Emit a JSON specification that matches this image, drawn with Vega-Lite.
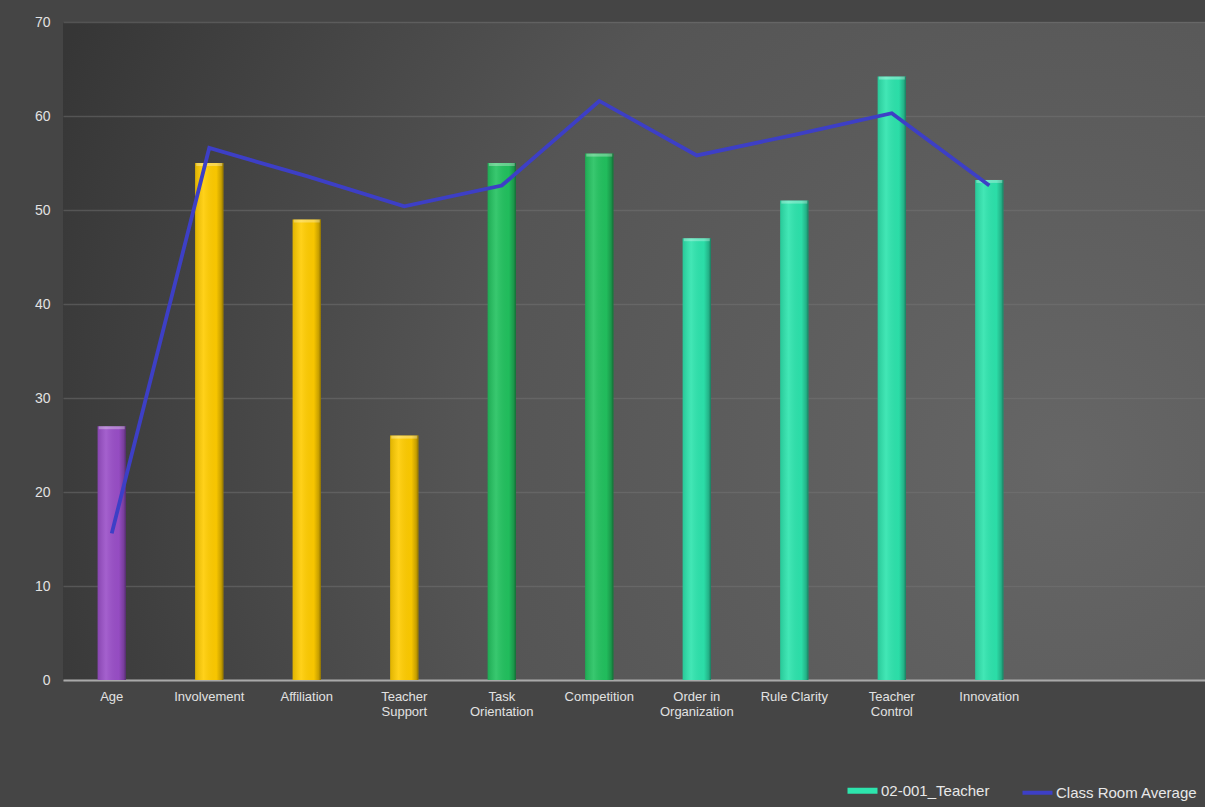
{
  "$schema": "https://vega.github.io/schema/vega-lite/v6.json",
  "autosize": {"type": "none"},
  "width": 1142,
  "height": 658,
  "padding": {"left": 63, "top": 22, "right": 0, "bottom": 127},
  "background": "#454545",
  "config": {
    "view": {
      "stroke": null,
      "fill": {
        "gradient": "radial",
        "x1": 0.88, "y1": 0.6, "r1": 0,
        "x2": 0.88, "y2": 0.6, "r2": 0.95,
        "stops": [
          {"offset": 0, "color": "#666666"},
          {"offset": 0.55, "color": "#555555"},
          {"offset": 1, "color": "#363636"}
        ]
      }
    },
    "font": "Liberation Sans",
    "axis": {"labelFont": "Liberation Sans", "labelColor": "#e2e2e2", "labelFontSize": 13},
    "legend": {"labelFont": "Liberation Sans", "labelColor": "#e8e8e8", "labelFontSize": 15}
  },
  "data": {
    "values": [
      {"category": "Age", "group": "age", "teacher": 27, "average": 15.6},
      {"category": "Involvement", "group": "rel", "teacher": 55, "average": 56.6},
      {"category": "Affiliation", "group": "rel", "teacher": 49, "average": 53.6},
      {"category": "Teacher Support", "group": "rel", "teacher": 26, "average": 50.4},
      {"category": "Task Orientation", "group": "pers", "teacher": 55, "average": 52.6},
      {"category": "Competition", "group": "pers", "teacher": 56, "average": 61.6},
      {"category": "Order in Organization", "group": "sys", "teacher": 47, "average": 55.8},
      {"category": "Rule Clarity", "group": "sys", "teacher": 51, "average": 58.0},
      {"category": "Teacher Control", "group": "sys", "teacher": 64.2, "average": 60.3},
      {"category": "Innovation", "group": "sys", "teacher": 53.2, "average": 52.6}
    ]
  },
  "encoding": {
    "x": {
      "field": "category",
      "type": "nominal",
      "sort": null,
      "scale": {"type": "band", "paddingInner": 0, "paddingOuter": 0.856, "align": 0},
      "axis": {
        "title": null,
        "labelAngle": 0,
        "ticks": false,
        "grid": false,
        "domainColor": "#a9a9a9",
        "domainWidth": 2,
        "labelPadding": 10,
        "labelLineHeight": 15,
        "labelBaseline": "top",
        "labelExpr": "indexof(['Teacher Support','Task Orientation','Teacher Control'], datum.label) >= 0 ? split(datum.label, ' ') : (datum.label == 'Order in Organization' ? ['Order in', 'Organization'] : datum.label)"
      }
    }
  },
  "layer": [
    {
      "mark": {"type": "bar", "width": {"band": 0.29}},
      "encoding": {
        "y": {
          "field": "teacher",
          "type": "quantitative",
          "scale": {"domain": [0, 70], "nice": false},
          "axis": {
            "title": null,
            "values": [0, 10, 20, 30, 40, 50, 60, 70],
            "domain": false,
            "ticks": false,
            "grid": true,
            "gridColor": "#777777",
            "gridOpacity": 0.45,
            "gridWidth": 1.5,
            "labelPadding": 13,
            "labelFontSize": 14
          }
        },
        "fill": {
          "field": "group",
          "type": "nominal",
          "scale": {"domain": ["age", "rel", "pers", "sys"], "range": ["#9a4fc8", "#ffcc00", "#22c25f", "#2de4ad"]},
          "legend": null
        }
      }
    },
    {
      "mark": {
        "type": "bar",
        "width": {"band": 0.29},
        "fill": {
          "gradient": "linear",
          "x1": 0, "y1": 0, "x2": 1, "y2": 0,
          "stops": [
            {"offset": 0, "color": "rgba(0,0,0,0.12)"},
            {"offset": 0.3, "color": "rgba(255,255,255,0.10)"},
            {"offset": 0.75, "color": "rgba(0,0,0,0.03)"},
            {"offset": 0.92, "color": "rgba(0,0,0,0.22)"},
            {"offset": 1, "color": "rgba(0,0,0,0.45)"}
          ]
        }
      },
      "encoding": {
        "y": {"field": "teacher", "type": "quantitative"}
      }
    },
    {
      "mark": {"type": "tick", "thickness": 3, "color": "#ffffff", "opacity": 0.3, "yOffset": 1.5},
      "encoding": {
        "x": {"field": "category", "type": "nominal", "sort": null, "bandPosition": 0.5},
        "y": {"field": "teacher", "type": "quantitative"},
        "size": {"value": 26}
      }
    },
    {
      "mark": {"type": "line", "strokeWidth": 3.8, "strokeJoin": "miter"},
      "encoding": {
        "x": {"field": "category", "type": "nominal", "sort": null, "bandPosition": 0.5},
        "y": {"field": "average", "type": "quantitative"},
        "color": {
          "datum": "Class Room Average",
          "scale": {"domain": ["02-001_Teacher", "Class Room Average"], "range": ["#2de4ad", "#3d3fc6"]},
          "legend": {
            "title": null,
            "orient": "none",
            "legendX": 792,
            "legendY": 761,
            "direction": "horizontal",
            "symbolType": "stroke",
            "symbolSize": 900,
            "symbolStrokeWidth": 5,
            "labelOffset": 11,
            "columnPadding": 24,
            "encode": {
              "symbols": {
                "update": {
                  "strokeWidth": {"signal": "datum.value === '02-001_Teacher' ? 6 : 4"}
                }
              }
            }
          }
        }
      }
    }
  ]
}
